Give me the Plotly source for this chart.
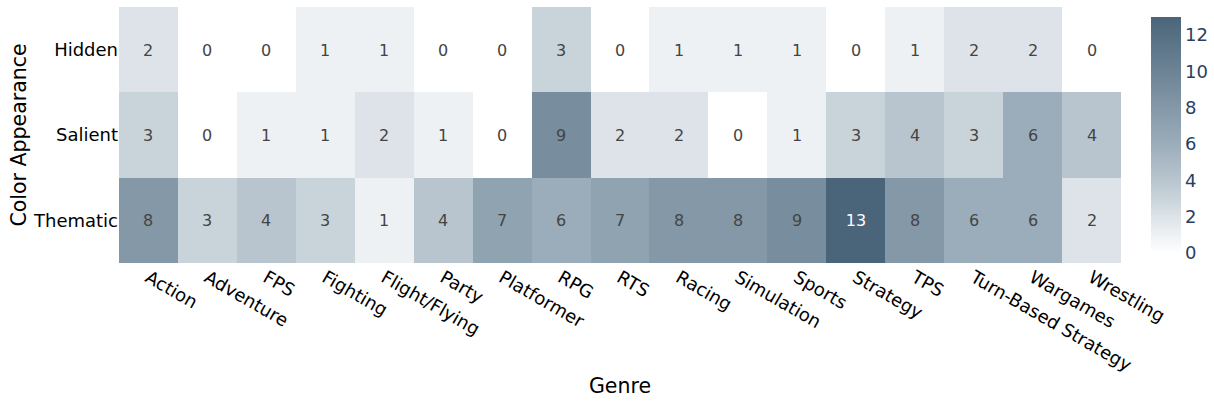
import plotly.graph_objects as go

genres = ["Action", "Adventure", "FPS", "Fighting", "Flight/Flying", "Party",
          "Platformer", "RPG", "RTS", "Racing", "Simulation", "Sports",
          "Strategy", "TPS", "Turn-Based Strategy", "Wargames", "Wrestling"]
appearances = ["Thematic", "Salient", "Hidden"]
thematic = [8, 3, 4, 3, 1, 4, 7, 6, 7, 8, 8, 9, 13, 8, 6, 6, 2]
salient = [3, 0, 1, 1, 2, 1, 0, 9, 2, 2, 0, 1, 3, 4, 3, 6, 4]
hidden = [2, 0, 0, 1, 1, 0, 0, 3, 0, 1, 1, 1, 0, 1, 2, 2, 0]

colorscale = [
    [0.0, "#ffffff"],
    [0.077, "#eef1f4"],
    [0.154, "#dde3e8"],
    [0.231, "#c9d3da"],
    [0.308, "#b9c5ce"],
    [0.462, "#9badba"],
    [0.615, "#8498a8"],
    [1.0, "#4a657a"],
]

FONT = "DejaVu Sans, Verdana, sans-serif"

fig = go.Figure(go.Heatmap(
    z=[thematic, salient, hidden],
    x=genres,
    y=appearances,
    colorscale=colorscale,
    zmin=0, zmax=13,
    texttemplate="%{z}",
    textfont=dict(size=16, family=FONT),
    colorbar=dict(
        thickness=30,
        tickvals=[0, 2, 4, 6, 8, 10, 12],
        tickfont=dict(size=18, color="#2a3f5f", family=FONT),
        outlinewidth=0,
    ),
))

fig.update_layout(
    width=1214, height=412,
    margin=dict(l=119, r=93, t=7, b=149, autoexpand=False),
    paper_bgcolor="white",
    plot_bgcolor="white",
    font=dict(family=FONT, color="black", size=18),
    xaxis=dict(
        title=dict(text="Genre", font=dict(size=20.5, color="black"), standoff=4),
        tickangle=30,
        tickfont=dict(size=18, color="black"),
        showgrid=False, zeroline=False, automargin=False,
    ),
    yaxis=dict(
        title=dict(text="Color Appearance", font=dict(size=20.5, color="black"), standoff=0),
        tickfont=dict(size=18, color="black"),
        showgrid=False, zeroline=False, automargin=False,
    ),
)

fig.write_html("out.html", config={"displayModeBar": False},
               post_script="document.body.style.margin='0';")
